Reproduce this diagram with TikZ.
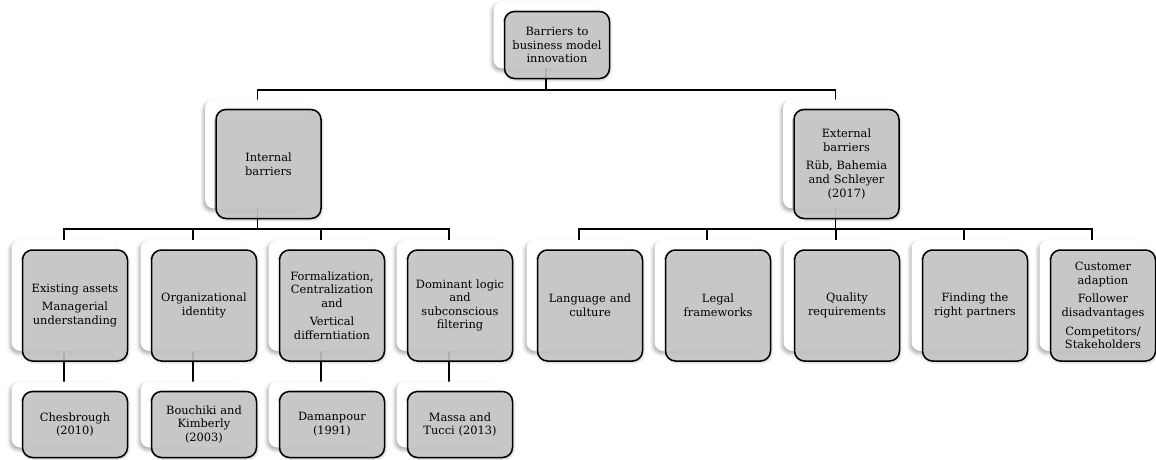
\documentclass[tikz,border=0pt]{standalone}
\usepackage{fontspec}
\setmainfont{DejaVu Serif}
\usetikzlibrary{shadows.blur}
\definecolor{boxgrey}{RGB}{200,200,200}
\pgfdeclarelayer{links}
\pgfsetlayers{links,main}

% a white card with a soft shadow, and a grey framed card laid over it
\newcommand{\cardpair}[5]{%
  \node[backcard, minimum height=#4] (#1b) at (#2,#3) {};
  \node[frontcard, minimum height=#4] (#1) at ({#2+11},{#3+10}) {#5};
}

\begin{document}
\begin{tikzpicture}[x=1pt, y=-1pt,
  backcard/.style={rectangle, rounded corners=9pt, fill=white, draw=none,
    minimum width=105pt, inner sep=0pt,
    blur shadow={shadow xshift=-1.5pt, shadow yshift=-2.5pt,
      shadow blur radius=3.5pt, shadow opacity=35}},
  frontcard/.style={rectangle, rounded corners=10pt, draw=black,
    line width=1.5pt, fill=boxgrey, fill opacity=0.88, text opacity=1,
    minimum width=105pt, text width=103pt, inner sep=0pt, align=center,
    font=\fontsize{11.4}{13.6}\selectfont,
    blur shadow={shadow xshift=1pt, shadow yshift=-1.5pt,
      shadow blur radius=2.5pt, shadow opacity=25}},
  link/.style={draw=black, line width=1.6pt}]

\useasboundingbox (0,0) rectangle (1156,459);

% root
\cardpair{root}{546}{35}{67}{Barriers to\\business model\\innovation}

% second level
\cardpair{int}{257.5}{154}{109}{Internal\\barriers}
\cardpair{ext}{835.5}{154}{109}{External\\barriers\\[5pt]R\"ub, Bahemia\\and Schleyer\\(2017)}

% internal barriers
\cardpair{ia}{64}{295.5}{111}{Existing assets\\[5pt]Managerial\\understanding}
\cardpair{ib}{193}{295.5}{111}{Organizational\\identity}
\cardpair{ic}{321}{295.5}{111}{Formalization,\\Centralization\\and\\[5pt]Vertical\\differntiation}
\cardpair{id}{449}{295.5}{111}{Dominant logic\\and\\subconscious\\filtering}

% sources of the internal barriers
\cardpair{sa}{64}{414.5}{66}{Chesbrough\\(2010)}
\cardpair{sb}{193}{414.5}{66}{Bouchiki and\\Kimberly\\(2003)}
\cardpair{sc}{321}{414.5}{66}{Damanpour\\(1991)}
\cardpair{sd}{449}{414.5}{66}{Massa and\\Tucci (2013)}

% external barriers
\cardpair{ea}{579}{295.5}{111}{Language and\\culture}
\cardpair{eb}{707}{295.5}{111}{Legal\\frameworks}
\cardpair{ec}{836}{295.5}{111}{Quality\\requirements}
\cardpair{ed}{964}{295.5}{111}{Finding the\\right partners}
\cardpair{ee}{1092}{295.5}{111}{Customer\\adaption\\[5pt]Follower\\disadvantages\\[5pt]Competitors/\\Stakeholders}

% bus heights
\coordinate (busA) at (0,90);
\coordinate (busB) at (0,229);

\begin{pgfonlayer}{links}
  \draw[link] (rootb.center) -- (rootb.center |- busA);
  \draw[link] (intb.center) -- (intb.center |- busA) -- (extb.center |- busA) -- (extb.center);
  \draw[link] (intb.center) -- (intb.center |- busB);
  \draw[link] (iab.center) -- (iab.center |- busB) -- (idb.center |- busB) -- (idb.center);
  \draw[link] (ibb.center) -- (ibb.center |- busB);
  \draw[link] (icb.center) -- (icb.center |- busB);
  \draw[link] (extb.center) -- (extb.center |- busB);
  \draw[link] (eab.center) -- (eab.center |- busB) -- (eeb.center |- busB) -- (eeb.center);
  \draw[link] (ebb.center) -- (ebb.center |- busB);
  \draw[link] (ecb.center) -- (ecb.center |- busB);
  \draw[link] (edb.center) -- (edb.center |- busB);
  \draw[link] (iab.center) -- (sab.center);
  \draw[link] (ibb.center) -- (sbb.center);
  \draw[link] (icb.center) -- (scb.center);
  \draw[link] (idb.center) -- (sdb.center);
\end{pgfonlayer}
\end{tikzpicture}
\end{document}
